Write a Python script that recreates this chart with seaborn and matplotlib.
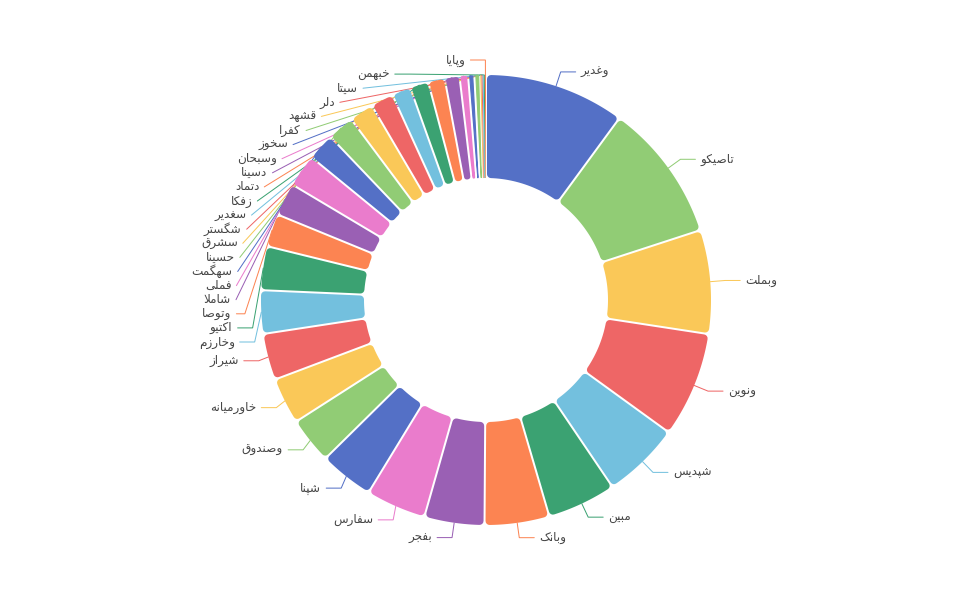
import math

import numpy as np
import matplotlib
matplotlib.use("Agg")
import matplotlib.pyplot as plt
from matplotlib.path import Path
from matplotlib.patches import PathPatch
import seaborn as sns

# ---- data -------------------------------------------------------------
symbols = [
    "وغدیر", "تاصیکو", "وبملت", "ونوین", "شپدیس", "مبین", "وبانک", "بفجر",
    "سفارس", "شپنا", "وصندوق", "خاورمیانه", "شیراز", "وخارزم", "اکتیو",
    "وتوصا", "شاملا", "فملی", "سهگمت", "حسینا", "سشرق", "شگستر", "سغدیر",
    "زفکا", "دتماد", "دسینا", "وسبحان", "سخوز", "کفرا", "قشهد", "دلر",
    "سیتا", "خبهمن", "وپایا",
]
weights = [
    10.08, 9.92, 7.44, 7.56, 5.56, 4.94, 4.64, 4.31,
    4.31, 3.89, 3.33, 3.33, 3.33, 3.11, 3.14,
    2.36, 2.36, 2.36, 1.97, 1.92, 1.75, 1.64, 1.36,
    1.33, 1.19, 1.06, 0.61, 0.44, 0.42, 0.09, 0.08,
    0.08, 0.08, 0.08,
]
palette_hex = ["#5470c6", "#91cc75", "#fac858", "#ee6666", "#73c0de",
               "#3ba272", "#fc8452", "#9a60b4", "#ea7ccc"]

# ---- style ------------------------------------------------------------
sns.set_theme(style="white")
plt.rcParams["font.family"] = ["DejaVu Sans"]
palette = sns.color_palette(palette_hex)

W, H = 974, 600
CX, CY = 486, 300
R_OUT, R_IN = 225, 122
CORNER = 4.0          # rounded corner radius (px)
GAP = 2.0             # white gap between sectors (px)
LEN1, LEN2, TXT_GAP = 15, 15, 5
LINE_H = 14.1
PX = 0.72             # points per pixel at 100 dpi
TEXT_COLOR = "#464646"
FONT_PT = 12 * PX

# ---- Persian shaping (matplotlib draws glyphs left to right, unshaped) --
FORMS = {
    "ا": (0xFE8D, 0xFE8E, None, None),
    "ب": (0xFE8F, 0xFE90, 0xFE91, 0xFE92),
    "پ": (0xFB56, 0xFB57, 0xFB58, 0xFB59),
    "ت": (0xFE95, 0xFE96, 0xFE97, 0xFE98),
    "ج": (0xFE9D, 0xFE9E, 0xFE9F, 0xFEA0),
    "ح": (0xFEA1, 0xFEA2, 0xFEA3, 0xFEA4),
    "خ": (0xFEA5, 0xFEA6, 0xFEA7, 0xFEA8),
    "د": (0xFEA9, 0xFEAA, None, None),
    "ر": (0xFEAD, 0xFEAE, None, None),
    "ز": (0xFEAF, 0xFEB0, None, None),
    "س": (0xFEB1, 0xFEB2, 0xFEB3, 0xFEB4),
    "ش": (0xFEB5, 0xFEB6, 0xFEB7, 0xFEB8),
    "ص": (0xFEB9, 0xFEBA, 0xFEBB, 0xFEBC),
    "غ": (0xFECD, 0xFECE, 0xFECF, 0xFED0),
    "ف": (0xFED1, 0xFED2, 0xFED3, 0xFED4),
    "ق": (0xFED5, 0xFED6, 0xFED7, 0xFED8),
    "ک": (0xFB8E, 0xFB8F, 0xFB90, 0xFB91),
    "گ": (0xFB92, 0xFB93, 0xFB94, 0xFB95),
    "ل": (0xFEDD, 0xFEDE, 0xFEDF, 0xFEE0),
    "م": (0xFEE1, 0xFEE2, 0xFEE3, 0xFEE4),
    "ن": (0xFEE5, 0xFEE6, 0xFEE7, 0xFEE8),
    "ه": (0xFEE9, 0xFEEA, 0xFEEB, 0xFEEC),
    "و": (0xFEED, 0xFEEE, None, None),
    "ی": (0xFBFC, 0xFBFD, 0xFBFE, 0xFBFF),
}
LAM_ALEF = (0xFEFB, 0xFEFC)


def shape_fa(word):
    chars = list(word)
    n = len(chars)

    def dual(c):
        return c in FORMS and FORMS[c][2] is not None

    out = []
    i = 0
    while i < n:
        c = chars[i]
        if c not in FORMS:
            out.append(c)
            i += 1
            continue
        joins_prev = i > 0 and dual(chars[i - 1])
        if c == "ل" and i + 1 < n and chars[i + 1] == "ا":
            out.append(chr(LAM_ALEF[1] if joins_prev else LAM_ALEF[0]))
            i += 2
            continue
        joins_next = dual(c) and i + 1 < n and chars[i + 1] in FORMS
        iso, fin, ini, med = FORMS[c]
        if joins_prev and joins_next:
            cp = med
        elif joins_prev:
            cp = fin
        elif joins_next:
            cp = ini
        else:
            cp = iso
        out.append(chr(cp))
        i += 1
    return "".join(reversed(out))


# ---- geometry helpers --------------------------------------------------
def rounded_sector(center, r_out, r_in, t1, t2, corner, gap):
    """Inset annular sector; stroked with 2*corner width it gets round corners."""
    span = math.radians(t2 - t1)
    room = span * r_in / 2.0
    if room <= gap / 2.0 + 0.2:
        gap = 0.0
        d = 0.0
    else:
        d = min(corner, max(0.0, (room - gap / 2.0) * 0.85))
        if d < 0.4:
            d = 0.0
    e = d + gap / 2.0
    ro, ri = r_out - d, r_in + d
    ao = math.degrees(math.asin(min(1.0, e / ro)))
    ai = math.degrees(math.asin(min(1.0, e / ri)))
    a1, a2 = t1 + ao, t2 - ao
    b1, b2 = t1 + ai, t2 - ai
    if b2 < b1:
        b1 = b2 = 0.5 * (t1 + t2)
    if a2 < a1:
        a1 = a2 = 0.5 * (t1 + t2)
    cx, cy = center
    outer = np.radians(np.linspace(a1, a2, 60))
    inner = np.radians(np.linspace(b2, b1, 60))
    xs = np.concatenate([cx + ro * np.cos(outer), cx + ri * np.cos(inner)])
    ys = np.concatenate([cy + ro * np.sin(outer), cy + ri * np.sin(inner)])
    verts = np.column_stack([xs, ys])
    verts = np.vstack([verts, verts[:1]])
    codes = [Path.MOVETO] + [Path.LINETO] * (len(verts) - 2) + [Path.CLOSEPOLY]
    return Path(verts, codes), d


def project(p1, p2, p0):
    v = p2 - p1
    t = np.dot(p0 - p1, v) / np.dot(v, v)
    proj = p1 + t * v
    return proj, float(np.linalg.norm(p0 - proj))


def clamp_on_segment(q, p1, p2):
    if p2[0] != p1[0]:
        t = (q[0] - p1[0]) / (p2[0] - p1[0])
    else:
        t = (q[1] - p1[1]) / (p2[1] - p1[1])
    if t < 0:
        return p1.copy()
    if t > 1:
        return p2.copy()
    return q


def limit_surface_angle(pts, normal, max_angle=math.pi / 2):
    p0, p1, p2 = pts
    d1, d2 = p1 - p0, p2 - p1
    l1, l2 = np.linalg.norm(d1), np.linalg.norm(d2)
    if l1 < 1e-3 or l2 < 1e-3:
        return
    d1, d2 = d1 / l1, d2 / l2
    if np.dot(d1, normal) < math.cos(max_angle):
        proj, d = project(p1, p2, p0)
        angle2 = math.acos(float(np.clip(np.dot(d2, normal), -1, 1)))
        new_angle = math.pi / 2 + angle2 - max_angle
        if new_angle >= math.pi / 2 - 1e-9:
            q = p2.copy()
        else:
            q = proj + d2 * d / math.tan(math.pi / 2 - new_angle)
            q = clamp_on_segment(q, p1, p2)
        pts[1] = q


def limit_turn_angle(pts, min_angle=math.pi / 2):
    p0, p1, p2 = pts
    v1, v2 = p0 - p1, p2 - p1
    l1, l2 = np.linalg.norm(v1), np.linalg.norm(v2)
    if l1 < 1e-3 or l2 < 1e-3:
        return
    v1, v2 = v1 / l1, v2 / l2
    if np.dot(v1, v2) > math.cos(min_angle) + 1e-12:
        proj, _ = project(p1, p2, p0)
        pts[1] = clamp_on_segment(proj, p1, p2)


# ---- figure -------------------------------------------------------------
fig = plt.figure(figsize=(W / 100, H / 100), dpi=100, facecolor="white")
ax = fig.add_axes([0, 0, 1, 1])
colors = [palette[i % len(palette)] for i in range(len(weights))]

wedges, _ = ax.pie(
    weights, colors=colors, startangle=90, counterclock=False,
    radius=R_OUT, center=(CX, CY),
    wedgeprops=dict(width=R_OUT - R_IN, linewidth=0),
)
ax.set_xlim(0, W)
ax.set_ylim(0, H)
ax.set_aspect("equal")
ax.axis("off")

# replace the sharp wedges by rounded, gapped sectors
for w, col in zip(wedges, colors):
    w.set_visible(False)
    path, d = rounded_sector(w.center, w.r, w.r - w.width, w.theta1, w.theta2,
                             CORNER, GAP)
    patch = PathPatch(path, facecolor=col, edgecolor=col,
                      linewidth=2 * d * PX if d > 0 else 0,
                      joinstyle="round", zorder=2)
    ax.add_patch(patch)

# ---- outside labels with leader lines --------------------------------
items = []
for i, w in enumerate(wedges):
    mid = math.radians(0.5 * (w.theta1 + w.theta2))
    ux, uy = math.cos(mid), math.sin(mid)
    side = -1 if ux < 0 else 1
    p0 = np.array([CX + R_OUT * ux, CY + R_OUT * uy])
    p1 = np.array([CX + (R_OUT + LEN1) * ux, CY + (R_OUT + LEN1) * uy])
    items.append(dict(i=i, side=side, normal=np.array([ux, uy]), p0=p0,
                      x=p1[0] + side * (LEN2 + TXT_GAP), y=p1[1]))

rA = R_OUT + LEN1
for side in (-1, 1):
    group = sorted([it for it in items if it["side"] == side],
                   key=lambda it: -it["y"])
    shifted = False
    for k in range(1, len(group)):
        limit = group[k - 1]["y"] - LINE_H
        if group[k]["y"] > limit:
            group[k]["y"] = limit
            shifted = True
    if not shifted:
        continue
    for semi in ([it for it in group if it["y"] >= CY],
                 [it for it in group if it["y"] < CY]):
        if not semi:
            continue
        far = max(semi, key=lambda it: abs(it["y"] - CY))
        dy = abs(far["y"] - CY)
        dx = far["x"] - CX - LEN2 * side
        rB = math.sqrt(dy * dy / (1 - dx * dx / rA / rA)) if abs(dx) < rA else rA
        for it in semi:
            dy = abs(it["y"] - CY)
            dx = math.sqrt(max(0.0, 1 - dy * dy / rB / rB)) * rA
            it["x"] = CX + (dx + LEN2) * side

for it in items:
    col = colors[it["i"]]
    p2 = np.array([it["x"] - it["side"] * TXT_GAP, it["y"]])
    p1 = np.array([p2[0] - it["side"] * LEN2, it["y"]])
    pts = [it["p0"].copy(), p1, p2]
    limit_surface_angle(pts, it["normal"])
    limit_turn_angle(pts)
    xs = [p[0] for p in pts]
    ys = [p[1] for p in pts]
    ax.plot(xs, ys, color=col, linewidth=1.0 * PX, solid_joinstyle="miter",
            zorder=1)
    ax.text(it["x"], it["y"], shape_fa(symbols[it["i"]]),
            ha="left" if it["side"] > 0 else "right", va="center",
            fontsize=FONT_PT, color=TEXT_COLOR, zorder=3)

fig.savefig("out.png", dpi=100, facecolor="white")
